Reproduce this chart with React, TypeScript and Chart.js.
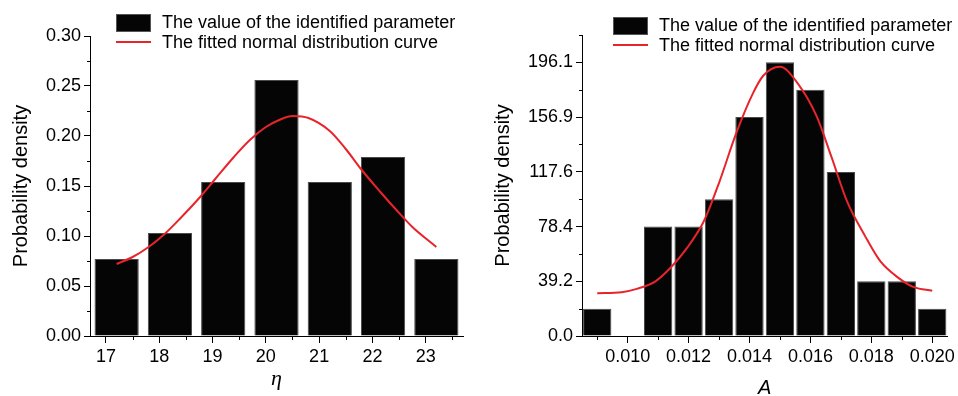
import React, { useEffect, useRef } from "react";
import { Chart, registerables } from "chart.js";

Chart.register(...registerables);

// ---------- Data: left panel (eta) ----------
const leftBinCenters = [17.2, 18.2, 19.2, 20.2, 21.2, 22.2, 23.2];
const leftDensity = [0.077, 0.103, 0.154, 0.256, 0.154, 0.179, 0.077];
const leftCurveX = [17.2, 17.5, 17.8, 18.1, 18.4, 18.75, 19.05, 19.4, 19.7, 20.0, 20.25, 20.5, 20.8, 21.2, 21.5, 21.8, 22.15, 22.45, 22.75, 23.2];
const leftCurveY = [0.072, 0.079, 0.089, 0.102, 0.118, 0.138, 0.157, 0.179, 0.196, 0.209, 0.216, 0.220, 0.218, 0.205, 0.187, 0.166, 0.144, 0.126, 0.109, 0.089];
const leftXTicks = [17, 18, 19, 20, 21, 22, 23];
const leftXMinorTicks = [17.5, 18.5, 19.5, 20.5, 21.5, 22.5, 23.5];
const leftYTicks = [0, 0.05, 0.1, 0.15, 0.2, 0.25, 0.3];
const leftYMinorTicks = [0.025, 0.075, 0.125, 0.175, 0.225, 0.275];

// ---------- Data: right panel (A) ----------
const rightBinCenters = [0.009, 0.010, 0.011, 0.012, 0.013, 0.014, 0.015, 0.016, 0.017, 0.018, 0.019, 0.020];
const rightDensity = [19.6, 0, 78.4, 78.4, 98.0, 156.9, 196.1, 176.5, 117.6, 39.2, 39.2, 19.6];
const rightCurveX = [0.009, 0.0098, 0.0103, 0.0109, 0.0114, 0.01195, 0.0125, 0.0130, 0.01355, 0.0141, 0.01445, 0.0150, 0.0156, 0.0162, 0.0167, 0.0172, 0.0178, 0.0183, 0.0189, 0.0194, 0.0200];
const rightCurveY = [30.7, 31.4, 33.8, 39.0, 48.7, 63.1, 82.2, 109.8, 144.5, 173.3, 186.5, 193.0, 180.5, 157.7, 127.8, 96.6, 71.4, 53.4, 41.5, 35.0, 32.4];
const rightXTicks = [0.010, 0.012, 0.014, 0.016, 0.018, 0.020];
const rightXMinorTicks = [0.009, 0.011, 0.013, 0.015, 0.017, 0.019];
const rightYTicks = [0, 39.2, 78.4, 117.6, 156.9, 196.1];
const rightYMinorTicks = [19.6, 58.8, 98.0, 137.3, 176.5, 215.7];

const barLabel = "The value of the identified parameter";
const curveLabel = "The fitted normal distribution curve";
const yTitle = "Probability density";

const SANS = '"Liberation Sans", Arial, Helvetica, sans-serif';
const RED = "#e8242b";
const BAR = "#050505";

const decorPlugin = {
  id: "decor",
  afterDraw(chart: any, _args: any, opts: any) {
    const ctx = chart.ctx;
    const xs = chart.scales.x;
    const ys = chart.scales.y;
    const ca = chart.chartArea;
    ctx.save();
    ctx.strokeStyle = "#000";
    ctx.lineWidth = 1;
    ctx.beginPath();
    for (const v of opts.xMinor) {
      const px = Math.round(xs.getPixelForValue(v)) + 0.5;
      ctx.moveTo(px, ca.bottom);
      ctx.lineTo(px, ca.bottom + opts.xMinorLen);
    }
    for (const v of opts.yMinor) {
      const py = Math.round(ys.getPixelForValue(v)) + 0.5;
      ctx.moveTo(ca.left, py);
      ctx.lineTo(ca.left - opts.yMinorLen, py);
    }
    ctx.stroke();

    // legend
    const L = opts.legend;
    const ds = chart.data.datasets;
    ctx.fillStyle = BAR;
    ctx.fillRect(L.x, L.y, 35, 18);
    ctx.strokeStyle = "#555";
    ctx.strokeRect(L.x + 0.5, L.y + 0.5, 34, 17);
    ctx.strokeStyle = RED;
    ctx.lineWidth = 2;
    ctx.beginPath();
    ctx.moveTo(L.x, L.y + 28);
    ctx.lineTo(L.x + 35, L.y + 28);
    ctx.stroke();
    ctx.fillStyle = "#000";
    ctx.font = "18px " + SANS;
    ctx.textBaseline = "alphabetic";
    ctx.textAlign = "left";
    const barDs = ds.find((d: any) => d.type === "bar");
    const lineDs = ds.find((d: any) => d.type === "line");
    ctx.fillText(barDs.label, L.x + 46, L.y + 14);
    ctx.fillText(lineDs.label, L.x + 46, L.y + 34);
    ctx.restore();
  },
};

type Panel = {
  centers: number[];
  density: number[];
  curveX: number[];
  curveY: number[];
  xTicks: number[];
  xMinor: number[];
  yTicks: number[];
  yMinor: number[];
  xMin: number;
  xMax: number;
  yMax: number;
  xDecimals: number;
  yDecimals: number;
  xTitle: string;
  xTitleFont: any;
  xTitlePad: number;
  yTitlePad: number;
  barPct: number;
  yAxisWidth: number;
  padTop: number;
  padRight: number;
  legend: { x: number; y: number };
};

function makeConfig(p: Panel): any {
  const tickFont = { size: 18, family: SANS };
  return {
    type: "bar",
    data: {
      datasets: [
        {
          type: "line",
          label: curveLabel,
          data: p.curveX.map((x, i) => ({ x, y: p.curveY[i] })),
          borderColor: RED,
          borderWidth: 2,
          pointRadius: 0,
          cubicInterpolationMode: "monotone",
          fill: false,
          order: 0,
        },
        {
          type: "bar",
          label: barLabel,
          data: p.centers.map((x, i) => ({ x, y: p.density[i] })),
          backgroundColor: BAR,
          borderColor: "#4a4a4a",
          borderWidth: 1,
          borderSkipped: "bottom",
          barPercentage: p.barPct,
          categoryPercentage: 1,
          order: 1,
        },
      ],
    },
    options: {
      animation: false,
      responsive: false,
      devicePixelRatio: 1,
      layout: { padding: { left: 0, top: p.padTop, right: p.padRight, bottom: 0 } },
      plugins: {
        legend: { display: false },
        tooltip: { enabled: false },
        decor: {
          xMinor: p.xMinor,
          yMinor: p.yMinor,
          xMinorLen: 4,
          yMinorLen: 3,
          legend: p.legend,
        },
      },
      scales: {
        x: {
          type: "linear",
          min: p.xMin,
          max: p.xMax,
          offset: false,
          afterBuildTicks: (s: any) => {
            s.ticks = p.xTicks.map((v) => ({ value: v }));
          },
          afterFit: (s: any) => {
            s.height = 60;
          },
          grid: { display: true, offset: false, drawOnChartArea: false, drawTicks: true, tickLength: 7, color: "#000" },
          border: { display: true, color: "#000", width: 1 },
          ticks: {
            color: "#000",
            font: tickFont,
            padding: 3,
            autoSkip: false,
            maxRotation: 0,
            callback: (v: any) => Number(v).toFixed(p.xDecimals),
          },
          title: {
            display: true,
            text: p.xTitle,
            color: "#000",
            font: p.xTitleFont,
            padding: { top: 0, bottom: p.xTitlePad },
          },
        },
        y: {
          type: "linear",
          min: 0,
          max: p.yMax,
          afterBuildTicks: (s: any) => {
            s.ticks = p.yTicks.map((v) => ({ value: v }));
          },
          afterFit: (s: any) => {
            s.width = p.yAxisWidth;
          },
          grid: { display: true, drawOnChartArea: false, drawTicks: true, tickLength: 6, color: "#000" },
          border: { display: true, color: "#000", width: 1 },
          ticks: {
            color: "#000",
            font: tickFont,
            padding: 3,
            autoSkip: false,
            callback: (v: any) => Number(v).toFixed(p.yDecimals),
          },
          title: {
            display: true,
            text: yTitle,
            color: "#000",
            font: { size: 20, family: SANS },
            padding: { top: p.yTitlePad, bottom: 0 },
          },
        },
      },
    },
    plugins: [decorPlugin],
  };
}

const leftPanel: Panel = {
  centers: leftBinCenters,
  density: leftDensity,
  curveX: leftCurveX,
  curveY: leftCurveY,
  xTicks: leftXTicks,
  xMinor: leftXMinorTicks,
  yTicks: leftYTicks,
  yMinor: leftYMinorTicks,
  xMin: 16.7,
  xMax: 23.7,
  yMax: 0.3,
  xDecimals: 0,
  yDecimals: 2,
  xTitle: "η",
  xTitleFont: { size: 22, style: "italic", family: '"Liberation Serif", "DejaVu Serif", serif' },
  xTitlePad: 4,
  yTitlePad: 9,
  barPct: 0.83,
  yAxisWidth: 90,
  padTop: 36,
  padRight: 16,
  legend: { x: 116, y: 14 },
};

const rightPanel: Panel = {
  centers: rightBinCenters,
  density: rightDensity,
  curveX: rightCurveX,
  curveY: rightCurveY,
  xTicks: rightXTicks,
  xMinor: rightXMinorTicks,
  yTicks: rightYTicks,
  yMinor: rightYMinorTicks,
  xMin: 0.0085,
  xMax: 0.0205,
  yMax: 215.7,
  xDecimals: 3,
  yDecimals: 1,
  xTitle: "A",
  xTitleFont: { size: 20, style: "italic", family: SANS },
  xTitlePad: -4,
  yTitlePad: 12,
  barPct: 0.93,
  yAxisWidth: 103,
  padTop: 35,
  padRight: 6,
  legend: { x: 134, y: 17 },
};

function ChartPanel({ panel, left }: { panel: Panel; left: number }) {
  const ref = useRef<HTMLCanvasElement | null>(null);
  useEffect(() => {
    if (!ref.current) return;
    const chart = new Chart(ref.current, makeConfig(panel));
    return () => chart.destroy();
  }, [panel]);
  return (
    <canvas
      ref={ref}
      width={479}
      height={396}
      style={{ position: "absolute", left, top: 0, width: 479, height: 396 }}
    />
  );
}

export default function App() {
  return (
    <div style={{ position: "absolute", left: 0, top: 0, width: 958, height: 396, background: "#fff" }}>
      <ChartPanel panel={leftPanel} left={0} />
      <ChartPanel panel={rightPanel} left={479} />
    </div>
  );
}
